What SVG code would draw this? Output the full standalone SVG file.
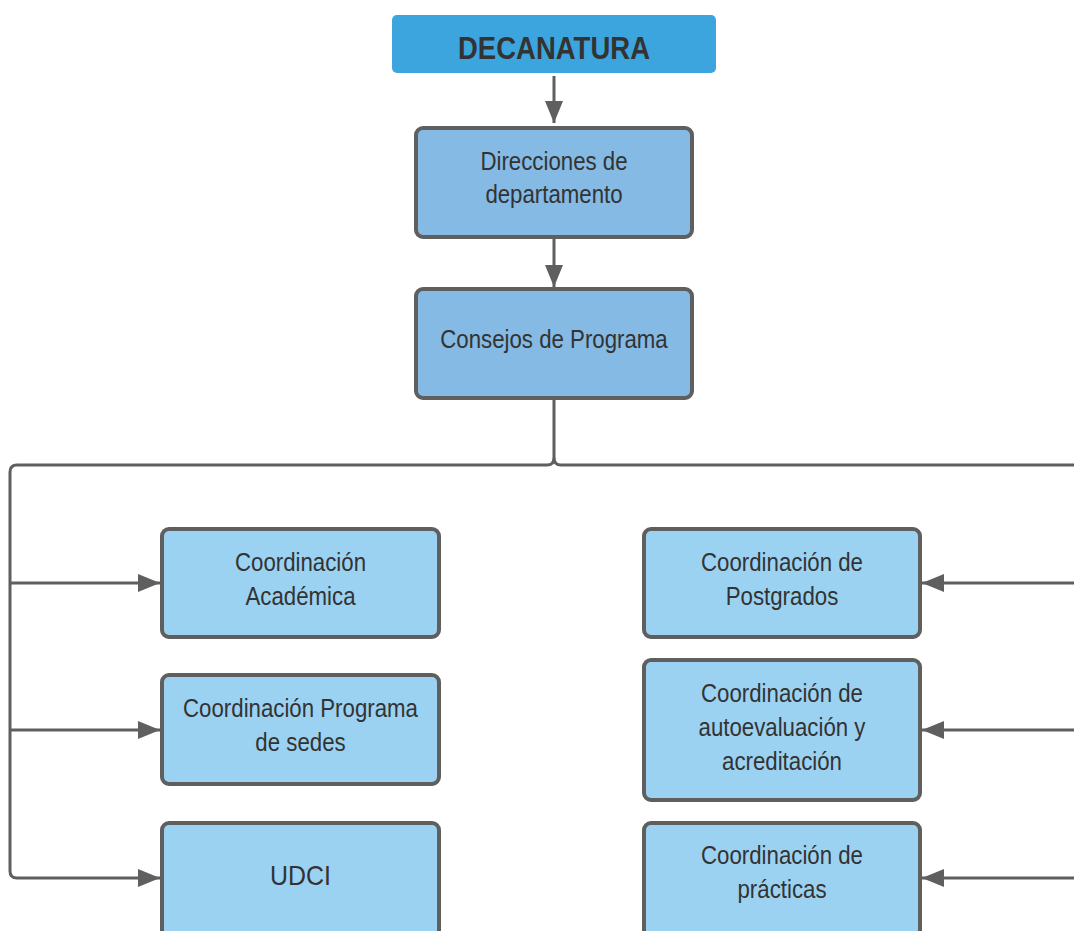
<svg xmlns="http://www.w3.org/2000/svg" width="1074" height="931" viewBox="0 0 1074 931">
<style>
.lbl{font-family:"Liberation Sans",Arial,sans-serif;font-size:25px;fill:#333333;text-anchor:middle}
.big{font-size:28px}
.title{font-family:"Liberation Sans",Arial,sans-serif;font-size:32px;font-weight:bold;fill:#333333;text-anchor:middle}
.box{stroke:#5f5f5f;stroke-width:4}
.mid{fill:#84bae4}
.low{fill:#9bd2f2}
.con{fill:none;stroke:#5f5f5f;stroke-width:3}
</style>
<defs>
<marker id="ah" markerUnits="userSpaceOnUse" markerWidth="22" markerHeight="18" refX="22" refY="9" orient="auto">
<path d="M0,0 L22,9 L0,18 Z" fill="#5f5f5f"/>
</marker>
</defs>
<rect width="1074" height="931" fill="#ffffff"/>
<g id="connectors">
<path class="con" d="M554,76 V123" marker-end="url(#ah)"/>
<path class="con" d="M554,238 V287" marker-end="url(#ah)"/>
<path class="con" d="M554,399 V458 Q554,465 547,465 H17 Q10,465 10,472 V871 Q10,878 17,878 H160" marker-end="url(#ah)"/>
<path class="con" d="M554,458 Q554,465 561,465 H1074"/>
<path class="con" d="M10,583 H160" marker-end="url(#ah)"/>
<path class="con" d="M10,730 H160" marker-end="url(#ah)"/>
<path class="con" d="M1074,583 H922" marker-end="url(#ah)"/>
<path class="con" d="M1074,730 H922" marker-end="url(#ah)"/>
<path class="con" d="M1074,878 H922" marker-end="url(#ah)"/>
</g>
<g id="decanatura">
<rect x="392" y="15" width="324" height="58" rx="5" fill="#3ca5dd"/>
<text class="title" transform="translate(554 59) scale(0.86 1)">DECANATURA</text>
</g>
<g id="direcciones">
<rect class="box mid" x="416" y="128" width="276" height="109" rx="7"/>
<text class="lbl" transform="translate(554 170) scale(0.89 1)"><tspan x="0" y="0">Direcciones de</tspan><tspan x="0" y="33">departamento</tspan></text>
</g>
<g id="consejos">
<rect class="box mid" x="416" y="289" width="276" height="109" rx="7"/>
<text class="lbl" transform="translate(554 348) scale(0.89 1)">Consejos de Programa</text>
</g>
<g id="academica">
<rect class="box low" x="162" y="529" width="277" height="108" rx="7"/>
<text class="lbl" transform="translate(300.5 571) scale(0.89 1)"><tspan x="0" y="0">Coordinación</tspan><tspan x="0" y="34">Académica</tspan></text>
</g>
<g id="sedes">
<rect class="box low" x="162" y="675" width="277" height="109" rx="7"/>
<text class="lbl" transform="translate(300.5 717) scale(0.89 1)"><tspan x="0" y="0">Coordinación Programa</tspan><tspan x="0" y="34">de sedes</tspan></text>
</g>
<g id="udci">
<rect class="box low" x="162" y="823" width="277" height="120" rx="7"/>
<text class="lbl big" transform="translate(300.5 885) scale(0.89 1)">UDCI</text>
</g>
<g id="postgrados">
<rect class="box low" x="644" y="529" width="276" height="108" rx="7"/>
<text class="lbl" transform="translate(782 571) scale(0.89 1)"><tspan x="0" y="0">Coordinación de</tspan><tspan x="0" y="34">Postgrados</tspan></text>
</g>
<g id="autoevaluacion">
<rect class="box low" x="644" y="660" width="276" height="140" rx="7"/>
<text class="lbl" transform="translate(782 702) scale(0.89 1)"><tspan x="0" y="0">Coordinación de</tspan><tspan x="0" y="34">autoevaluación y</tspan><tspan x="0" y="68">acreditación</tspan></text>
</g>
<g id="practicas">
<rect class="box low" x="644" y="823" width="276" height="120" rx="7"/>
<text class="lbl" transform="translate(782 864) scale(0.89 1)"><tspan x="0" y="0">Coordinación de</tspan><tspan x="0" y="34">prácticas</tspan></text>
</g>
</svg>
